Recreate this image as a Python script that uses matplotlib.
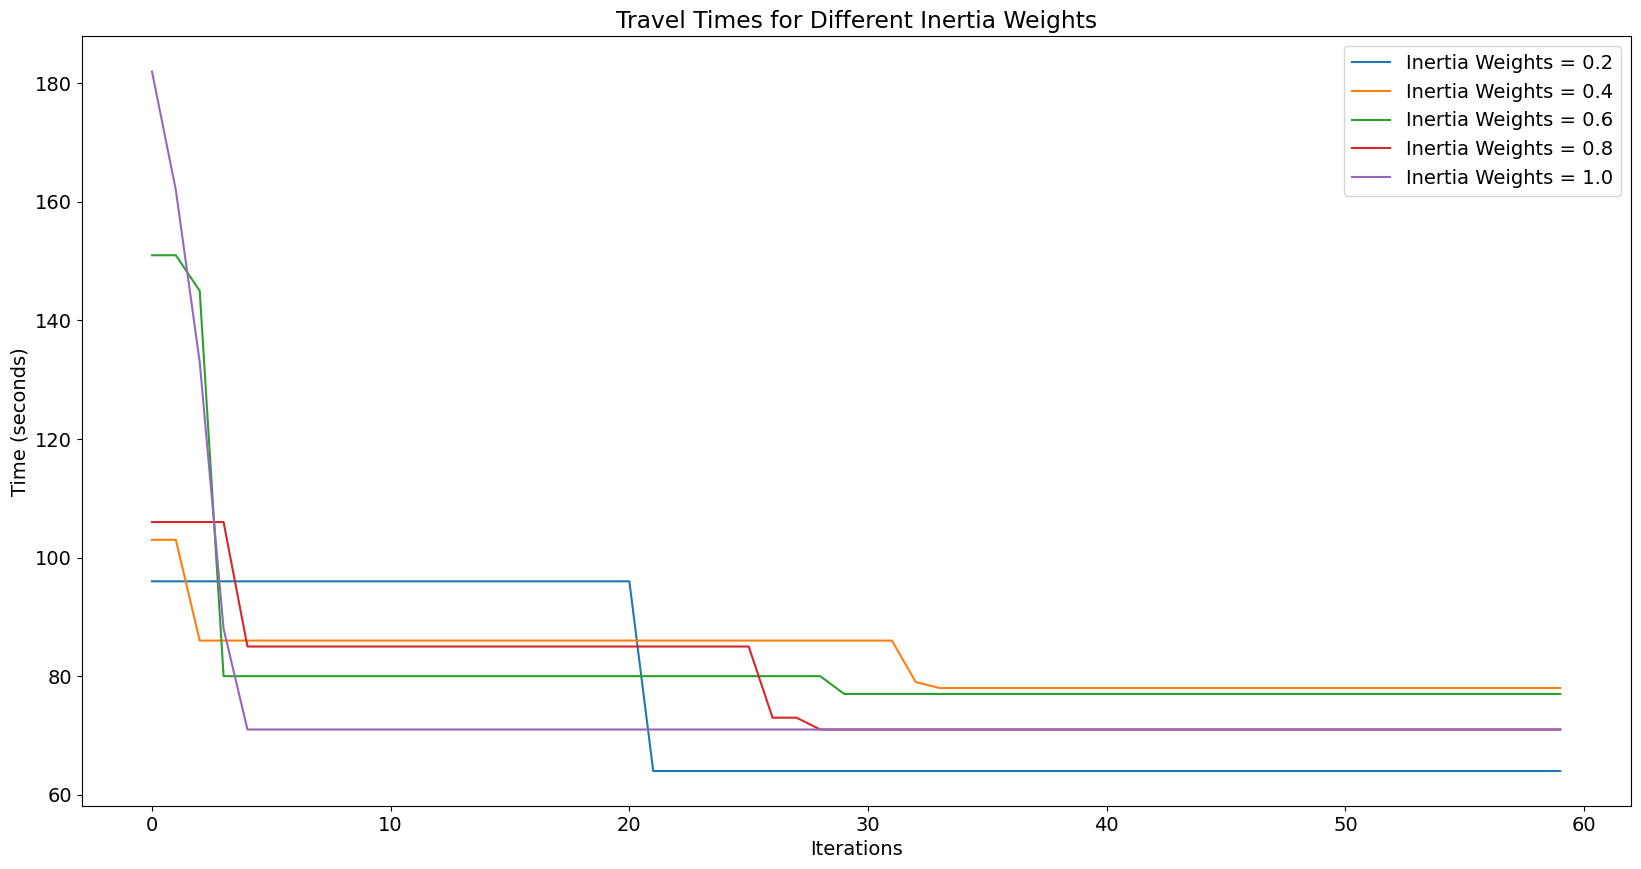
import matplotlib
matplotlib.use("Agg")
import matplotlib.pyplot as plt

iterations = list(range(60))

w02 = [96] * 21 + [64] * 39
w04 = [103, 103, 86] + [86] * 29 + [79] + [78] * 27
w06 = [151, 151, 145] + [80] * 26 + [77] * 31
w08 = [106, 106, 106, 106] + [85] * 22 + [73, 73] + [71] * 32
w10 = [182, 162, 133, 88] + [71] * 56

weights = ["0.2", "0.4", "0.6", "0.8", "1.0"]
series = [w02, w04, w06, w08, w10]

plt.rcParams['font.size'] = 14

fig = plt.figure(figsize=(16.41, 8.69), dpi=100)
ax = fig.add_subplot(111)
for w, vals in zip(weights, series):
    ax.plot(iterations, vals, label="Inertia Weights = " + w)

ax.set_title("Travel Times for Different Inertia Weights")
ax.set_xlabel("Iterations")
ax.set_ylabel("Time (seconds)")
ax.legend(loc="upper right")
fig.subplots_adjust(left=0.0497, right=0.9937, top=0.958, bottom=0.0725)
fig.savefig("out.png")
